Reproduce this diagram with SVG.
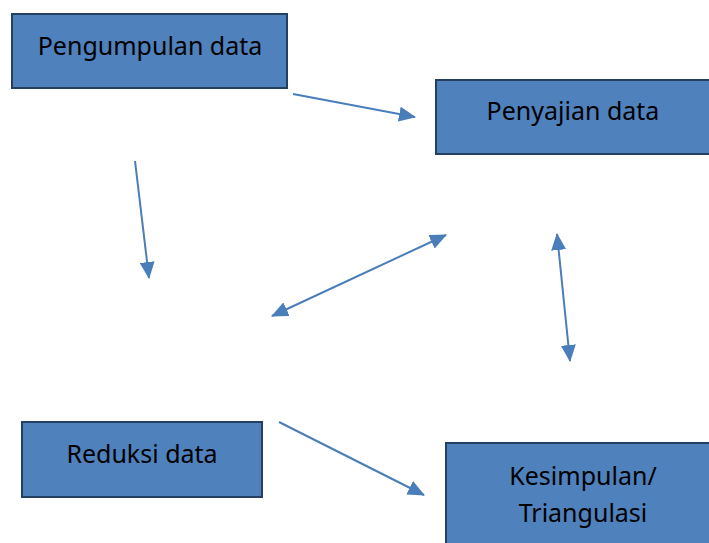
<svg xmlns="http://www.w3.org/2000/svg" width="709" height="543" viewBox="0 0 709 543">
<style>
.box{fill:#4F81BD;stroke:#243F60;stroke-width:2}
.lbl{font-family:"Noto Sans","Open Sans",sans-serif;font-size:25px;fill:#000;text-anchor:middle}
.con{stroke:#4A7EBB;stroke-width:2;fill:none}
</style>
<defs>
<marker id="ah" markerUnits="userSpaceOnUse" markerWidth="17" markerHeight="15" refX="16" refY="7.5" orient="auto-start-reverse" viewBox="0 0 17 15">
<path d="M0,0 L17,7.5 L0,15 Z" fill="#4A7EBB"/>
</marker>
</defs>
<rect width="709" height="543" fill="#fff"/>
<g id="n1"><rect class="box" x="12" y="14" width="275" height="74"/><text class="lbl" x="150" y="55">Pengumpulan data</text></g>
<g id="n2"><rect class="box" x="436" y="80" width="275" height="74"/><text class="lbl" x="573" y="120">Penyajian data</text></g>
<g id="n3"><rect class="box" x="22" y="422" width="240" height="75"/><text class="lbl" x="142" y="463">Reduksi data</text></g>
<g id="n4"><rect class="box" x="446" y="443" width="270" height="110"/><text class="lbl" x="583" y="485">Kesimpulan/</text><text class="lbl" x="583" y="522">Triangulasi</text></g>
<g id="connectors">
<line class="con" x1="293" y1="94" x2="415" y2="117" marker-end="url(#ah)"/>
<line class="con" x1="135" y1="161" x2="149" y2="278" marker-end="url(#ah)"/>
<line class="con" x1="272" y1="316" x2="446" y2="235" marker-start="url(#ah)" marker-end="url(#ah)"/>
<line class="con" x1="557" y1="234" x2="570" y2="361" marker-start="url(#ah)" marker-end="url(#ah)"/>
<line class="con" x1="279" y1="422" x2="424" y2="495" marker-end="url(#ah)"/>
</g>
</svg>
